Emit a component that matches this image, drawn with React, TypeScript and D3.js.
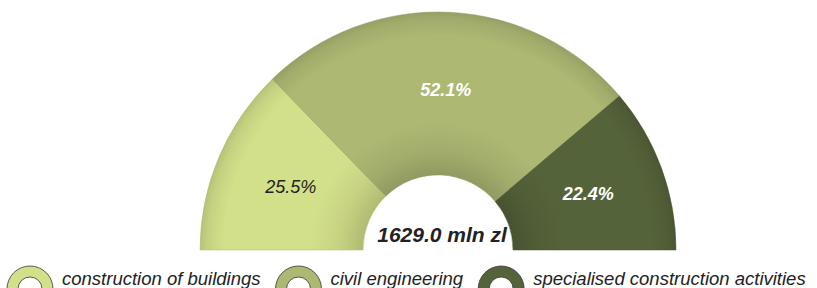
import React, { useRef, useEffect } from "react";
import * as d3 from "d3";

const categories = [
  "construction of buildings",
  "civil engineering",
  "specialised construction activities",
];
const shares = [25.5, 52.1, 22.4];
const colors = ["#d3e08a", "#adb873", "#55633a"];
const labelColors = ["#222", "#fff", "#fff"];
const totalLabel = "1629.0 mln zl";

export default function App() {
  const ref = useRef<SVGSVGElement>(null);

  useEffect(() => {
    const width = 817;
    const height = 288;
    const cx = 438;
    const cy = 250;
    const outer = 238;
    const inner = 75;
    const font = "Liberation Sans, Arial, sans-serif";

    const svg = d3.select(ref.current);
    svg.selectAll("*").remove();
    svg.attr("width", width).attr("height", height);

    // radial shading, darker toward the hole and the outer rim
    const defs = svg.append("defs");
    const k = inner / outer;
    colors.forEach((c, i) => {
      const g = defs
        .append("radialGradient")
        .attr("id", "grad" + i)
        .attr("gradientUnits", "userSpaceOnUse")
        .attr("cx", 0)
        .attr("cy", 0)
        .attr("r", outer);
      const stops: [number, string][] = [
        [k, d3.color(c)!.darker(0.5).toString()],
        [k + 0.1, d3.color(c)!.darker(0.18).toString()],
        [k + 0.22, c],
        [0.9, c],
        [0.97, d3.color(c)!.darker(0.2).toString()],
        [1, d3.color(c)!.darker(0.4).toString()],
      ];
      stops.forEach(([o, col]) =>
        g.append("stop").attr("offset", o).attr("stop-color", col)
      );
    });

    const pie = d3
      .pie<number>()
      .sort(null)
      .value((d) => d)
      .startAngle(-Math.PI / 2)
      .endAngle(Math.PI / 2);
    const arcs = pie(shares);

    const arc = d3
      .arc<d3.PieArcDatum<number>>()
      .innerRadius(inner)
      .outerRadius(outer);
    const labelArc = d3
      .arc<d3.PieArcDatum<number>>()
      .innerRadius(160)
      .outerRadius(160);

    const g = svg.append("g").attr("transform", `translate(${cx},${cy})`);
    g.selectAll("path")
      .data(arcs)
      .join("path")
      .attr("d", arc)
      .attr("fill", (d, i) => `url(#grad${i})`)
      .attr("stroke", (d, i) => d3.color(colors[i])!.darker(0.5).toString())
      .attr("stroke-width", 0.5);

    g.selectAll("text.pct")
      .data(arcs)
      .join("text")
      .attr("class", "pct")
      .attr("transform", (d) => `translate(${labelArc.centroid(d)})`)
      .attr("text-anchor", "middle")
      .attr("dy", "0.3em")
      .attr("font-family", font)
      .attr("font-style", "italic")
      .attr("font-size", 18)
      .attr("font-weight", (d, i) => (i === 0 ? "normal" : "bold"))
      .attr("fill", (d, i) => labelColors[i])
      .text((d) => d.data.toFixed(1) + "%");

    g.append("text")
      .attr("x", 4)
      .attr("y", -8)
      .attr("text-anchor", "middle")
      .attr("font-family", font)
      .attr("font-style", "italic")
      .attr("font-weight", "bold")
      .attr("font-size", 21)
      .attr("fill", "#222")
      .text(totalLabel);

    // legend
    const iconArc = d3
      .arc()
      .innerRadius(12)
      .outerRadius(23)
      .startAngle(-Math.PI / 2)
      .endAngle(Math.PI / 2);
    const legend = svg.append("g");
    let x = 8;
    categories.forEach((name, i) => {
      const item = legend.append("g").attr("transform", `translate(${x},0)`);
      item
        .append("path")
        .attr("transform", `translate(22,289)`)
        .attr("d", iconArc({} as any) as string)
        .attr("fill", colors[i])
        .attr("stroke", "#333")
        .attr("stroke-width", 0.8);
      const t = item
        .append("text")
        .attr("x", 54)
        .attr("y", 285)
        .attr("font-family", font)
        .attr("font-style", "italic")
        .attr("font-size", 18.5)
        .attr("fill", "#222")
        .text(name);
      const w = (t.node() as SVGTextElement).getComputedTextLength();
      x += 54 + w + 16;
    });
  }, []);

  return (
    <div style={{ position: "absolute", left: 0, top: 0 }}>
      <svg ref={ref} style={{ display: "block" }} />
    </div>
  );
}
